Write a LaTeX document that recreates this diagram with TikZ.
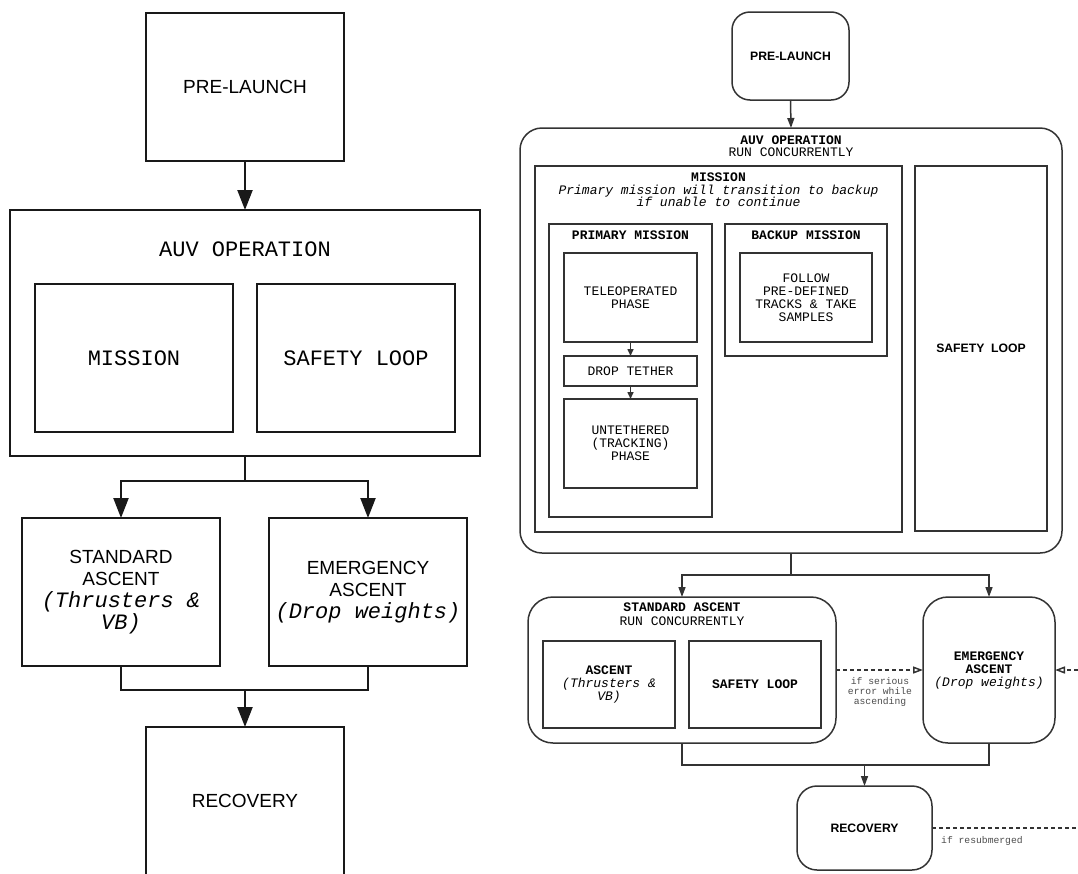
\documentclass[tikz,border=0pt]{standalone}
\usepackage{fontspec}
\setmainfont{Liberation Sans}
\newfontfamily\auvmono{Liberation Mono}
\newfontfamily\auvsans{Liberation Sans}
\usetikzlibrary{arrows.meta,positioning}

\tikzset{
  lbox/.style={draw=black!90, line width=2.2pt, inner sep=0pt, outer sep=0pt, align=center,
    font=\auvmono\fontsize{22}{22}\selectfont},
  lsans/.style={font=\auvsans\fontsize{19}{22}\selectfont},
  rbox/.style={draw=black!80, line width=1.5pt, inner sep=0pt, outer sep=0pt, align=center,
    font=\auvmono\fontsize{13}{13}\selectfont},
  rround/.style={rbox, rounded corners=#1},
  rsans/.style={font=\auvsans\bfseries\fontsize{12.2}{13}\selectfont},
  rtitle/.style={inner sep=0pt, align=center, font=\auvmono\fontsize{13}{12.5}\selectfont},
  lline/.style={line width=2.2pt, draw=black!90},
  larrow/.style={lline, -{Triangle[length=20pt,width=15pt]}},
  rline/.style={line width=1.5pt, draw=black!80},
  rarrow/.style={rline, -{Triangle[length=10pt,width=7pt]}},
  rsmall/.style={rline, -{Triangle[length=7pt,width=6pt]}},
  iflow/.style={rline, dash pattern=on 4pt off 3pt, -{Triangle[open,length=10pt,width=7pt]}},
  note/.style={inner sep=0pt, align=center, text=black!70, font=\auvmono\fontsize{9.7}{10}\selectfont},
}

\begin{document}
\begin{tikzpicture}[x=1pt,y=-1pt]
\useasboundingbox (0,0) rectangle (1078,873);
\clip (0,0) rectangle (1078,873);

% left: overview
\node[lbox, lsans, minimum width=198pt, minimum height=148pt] (lpre) at (245,87) {PRE-LAUNCH};
\node[lbox, minimum width=470pt, minimum height=246pt] (lauv) at (245,333) {};
\node[inner sep=0pt, font=\auvmono\fontsize{22}{22}\selectfont] (ltitle) at (245,249) {AUV OPERATION};
\node[lbox, minimum width=198pt, minimum height=148pt] (lmis) at (134,358) {MISSION};
\node[lbox, minimum width=198pt, minimum height=148pt] (lsafe) at (356,358) {SAFETY LOOP};
\node[lbox, minimum width=198pt, minimum height=148pt] (lstd) at (121,592)
  {{\auvsans\fontsize{19}{22}\selectfont STANDARD}\\{\auvsans\fontsize{19}{22}\selectfont ASCENT}\\{\itshape (Thrusters \&}\\{\itshape VB)}};
\node[lbox, minimum width=198pt, minimum height=148pt] (lemg) at (368,592)
  {{\auvsans\fontsize{19}{22}\selectfont EMERGENCY}\\{\auvsans\fontsize{19}{22}\selectfont ASCENT}\\{\itshape (Drop weights)}};
\node[lbox, lsans, minimum width=198pt, minimum height=148pt] (lrec) at (245,801) {RECOVERY};

\coordinate (lsplit) at (245,481);
\coordinate (ljoin) at (245,690);
\draw[larrow] (lpre.south) -- (lauv.north);
\draw[lline] (lauv.south) -- (lsplit);
\draw[larrow] (lsplit) -| (lstd.north);
\draw[larrow] (lsplit) -| (lemg.north);
\draw[lline] (lstd.south) |- (ljoin) -| (lemg.south);
\draw[larrow] (ljoin) -- (lrec.north);

% right: detailed
\node[rround=18pt, rsans, minimum width=117pt, minimum height=88pt] (rpre) at (790.5,56) {PRE-LAUNCH};
\node[rround=22pt, minimum width=542pt, minimum height=425pt] (rauv) at (791,340.5) {};
\node[rtitle, font=\auvmono\fontsize{13}{12}\selectfont] (rauvtitle) at (791,146) {{\bfseries AUV OPERATION}\\RUN CONCURRENTLY};
\node[rbox, minimum width=367pt, minimum height=366pt] (rmis) at (718.5,349) {};
\node[rtitle] (rmistitle) at (718.5,190)
  {{\bfseries MISSION}\\{\itshape Primary mission will transition to backup}\\{\itshape if unable to continue}};
\node[rbox, rsans, minimum width=132pt, minimum height=365pt] (rsafe) at (981,348.5) {SAFETY\ \ LOOP};

\node[rbox, minimum width=163pt, minimum height=293pt] (rprim) at (630.5,370.5) {};
\node[rtitle] (rprimtitle) at (630.5,235) {\bfseries PRIMARY MISSION};
\node[rbox, minimum width=133pt, minimum height=89pt] (rtele) at (630.5,297.5) {TELEOPERATED\\PHASE};
\node[rbox, minimum width=133pt, minimum height=30pt] (rdrop) at (630.5,371) {DROP TETHER};
\node[rbox, minimum width=133pt, minimum height=89pt] (runt) at (630.5,443.5) {UNTETHERED\\(TRACKING)\\PHASE};
\draw[rsmall] (rtele.south) -- (rdrop.north);
\draw[rsmall] (rdrop.south) -- (runt.north);

\node[rbox, minimum width=162pt, minimum height=132pt] (rback) at (806,290) {};
\node[rtitle] (rbacktitle) at (806,235) {\bfseries BACKUP MISSION};
\node[rbox, minimum width=132pt, minimum height=89pt] (rfollow) at (806,297.5) {FOLLOW\\PRE-DEFINED\\TRACKS \& TAKE\\SAMPLES};

\node[rround=25pt, minimum width=308pt, minimum height=146pt] (rstd) at (682,670) {};
\node[rtitle, font=\auvmono\fontsize{13}{14}\selectfont] (rstdtitle) at (682,614) {{\bfseries STANDARD ASCENT}\\RUN CONCURRENTLY};
\node[rbox, minimum width=132pt, minimum height=87pt] (rasc) at (609,684.5)
  {{\bfseries ASCENT}\\{\itshape (Thrusters \&}\\{\itshape VB)}};
\node[rbox, minimum width=132pt, minimum height=87pt] (rsafe2) at (755,684.5) {\bfseries SAFETY LOOP};
\node[rround=25pt, minimum width=132pt, minimum height=146pt] (remg) at (989,670)
  {{\bfseries EMERGENCY}\\{\bfseries ASCENT}\\{\itshape (Drop weights)}};
\node[rround=20pt, rsans, minimum width=135pt, minimum height=84pt] (rrec) at (864.5,828) {RECOVERY};

\coordinate (rsplit) at (791,575);
\coordinate (rjoin) at (864.5,765);
\coordinate (redge) at (1078,670);
\coordinate (redge2) at (1078,828);
\draw[rarrow] (rpre.south) -- (rauv.north);
\draw[rline] (rauv.south) -- (rsplit);
\draw[rarrow] (rsplit) -| (rstd.north);
\draw[rarrow] (rsplit) -| (remg.north);
\draw[rline] (rstd.south) |- (rjoin) -| (remg.south);
\draw[rarrow] (rjoin) -- (rrec.north);
\draw[iflow] (rstd.east) -- (remg.west);
\draw[iflow] (redge) -- (remg.east);
\draw[rline, dash pattern=on 4pt off 3pt] (rrec.east) -- (redge2);
\node[note] (rserious) at (880,692) {if serious\\error while\\ascending};
\node[note, anchor=west] (rresub) at (941,841) {if resubmerged};
\end{tikzpicture}
\end{document}
